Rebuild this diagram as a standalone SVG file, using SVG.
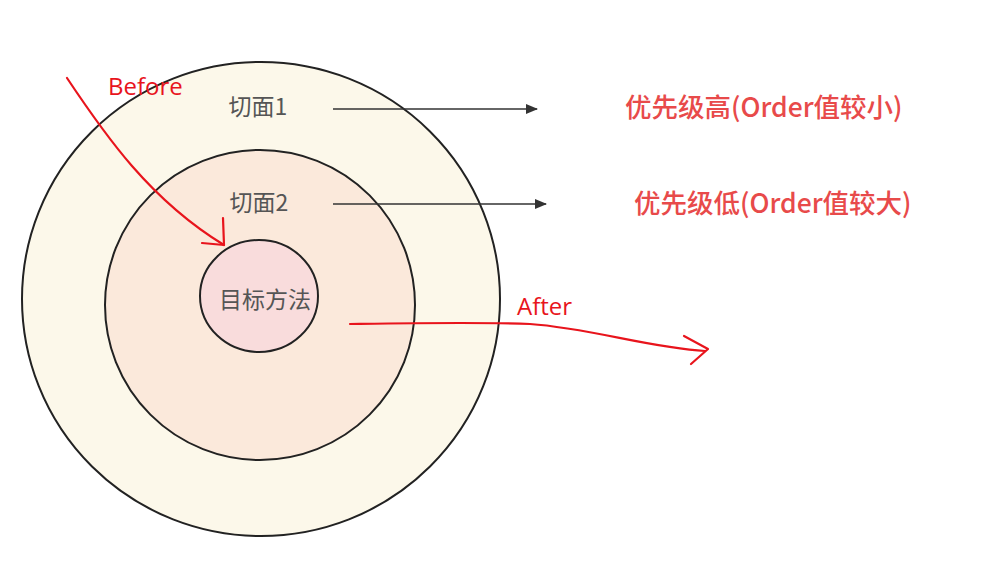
<svg xmlns="http://www.w3.org/2000/svg" width="986" height="578" viewBox="0 0 986 578">
<style>
.ring{stroke:#222;stroke-width:2}
.lbl{font-family:"Noto Sans CJK SC","Noto Sans",sans-serif;font-size:23px;fill:#555;text-anchor:middle}
.pri{font-family:"Noto Sans CJK SC","Noto Sans",sans-serif;font-size:26.5px;fill:#e84a4a;font-weight:500}
.red{font-family:"Open Sans","Noto Sans",sans-serif;font-size:24px;fill:#e8141c}
.conn{stroke:#333;stroke-width:1.6;fill:none}
.hand{stroke:#e8141c;stroke-width:2.2;fill:none;stroke-linecap:round;stroke-linejoin:round}
</style>
<defs>
<marker id="ah" markerWidth="12" markerHeight="10" refX="11" refY="5" orient="auto" markerUnits="userSpaceOnUse">
<path d="M0,0 L12,5 L0,10 Z" fill="#333"/>
</marker>
</defs>
<rect width="986" height="578" fill="#fff"/>
<g id="outer"><ellipse class="ring" cx="261" cy="299" rx="239" ry="237" fill="#fcf8ea"/><text class="lbl" x="258" y="115">切面1</text></g>
<g id="middle"><ellipse class="ring" cx="260" cy="305" rx="155" ry="155" fill="#fbe9db"/><text class="lbl" x="259" y="211">切面2</text></g>
<g id="inner"><ellipse class="ring" cx="259" cy="296" rx="59" ry="56" fill="#f9dcdc"/><text class="lbl" x="265" y="308">目标方法</text></g>
<g id="priority-high"><text class="pri" x="625" y="117">优先级高(Order值较小)</text></g>
<g id="priority-low"><text class="pri" x="634" y="213">优先级低(Order值较大)</text></g>
<g id="connectors">
<line class="conn" x1="333" y1="109" x2="537" y2="109" marker-end="url(#ah)"/>
<line class="conn" x1="333" y1="204" x2="546" y2="204" marker-end="url(#ah)"/>
</g>
<g id="before">
<text class="red" x="108" y="95">Before</text>
<path class="hand" d="M67,78 C105,135 150,200 224,245"/>
<path class="hand" d="M223,218 L224,245 L202,243"/>
</g>
<g id="after">
<text class="red" x="517" y="315">After</text>
<path class="hand" d="M350,324 C420,323 480,322 530,324 C590,328 650,348 705,351"/>
<path class="hand" d="M684,336 L708,349 L691,364"/>
</g>
</svg>
